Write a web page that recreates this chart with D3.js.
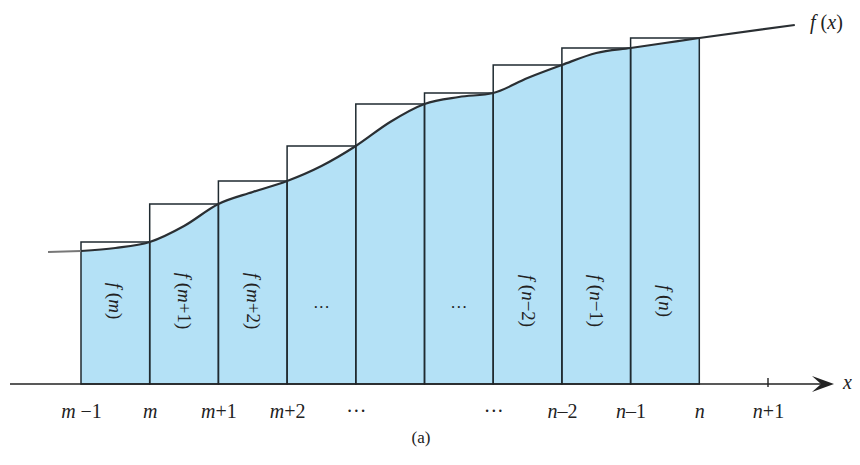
<!DOCTYPE html>
<html>
<head>
<meta charset="utf-8">
<script src="https://cdn.jsdelivr.net/npm/d3@7"></script>
<style>
  html, body { margin: 0; padding: 0; background: #fff; }
  svg { display: block; }
  text { font-family: "Liberation Serif", "DejaVu Serif", serif; fill: #222; }
</style>
</head>
<body>
<svg id="chart" width="860" height="465"></svg>
<script>
// ---- data ----
// curve sample positions (x index: 0 = m-1, 1 = m, ..., 9 = n, 10 = n+1)
const curveX = [-0.48, 0, 0.5, 1, 1.5, 2, 2.5, 3, 3.5, 4, 4.5, 5, 5.5, 6, 6.5, 7, 7.5, 8, 8.5, 9, 10.39];
const curveY = [132, 133, 136, 142, 158, 180, 192, 203, 218, 238, 262, 280, 287, 291, 306, 319, 331, 336, 341, 346, 359];
// rectangle heights f(k) on [k-1, k], right endpoints k = 1..9
const rectIndex = [1, 2, 3, 4, 5, 6, 7, 8, 9];
const rectValues = [142, 180, 203, 238, 280, 291, 319, 336, 346];
const rectLabels = ["f (m)", "f (m+1)", "f (m+2)", "···", "", "···", "f (n−2)", "f (n−1)", "f (n)"];
const tickValues = [0, 1, 2, 3, 4, 5, 6, 7, 8, 9, 10];
const tickLabels = ["m −1", "m", "m+1", "m+2", "···", "", "···", "n–2", "n–1", "n", "n+1"];

// ---- scales ----
const svg = d3.select("#chart");
const x = d3.scaleLinear().domain([0, 10]).range([81, 768]);
const y = d3.scaleLinear().domain([0, 360]).range([384, 24]);

const pts = curveX.map((v, i) => [v, curveY[i]]);
const interp = d3.curveMonotoneX;

// blue area under curve between x=0 and x=9
const areaPts = pts.filter(p => p[0] >= 0 && p[0] <= 9);
svg.append("path")
  .attr("d", d3.area().x(d => x(d[0])).y0(y(0)).y1(d => y(d[1])).curve(interp)(areaPts))
  .attr("fill", "#b4e1f6");

// rectangles (outlines)
svg.append("g").selectAll("rect")
  .data(rectIndex)
  .join("rect")
  .attr("x", d => x(d - 1))
  .attr("y", (d, i) => y(rectValues[i]))
  .attr("width", d => x(d) - x(d - 1))
  .attr("height", (d, i) => y(0) - y(rectValues[i]))
  .attr("fill", "none")
  .attr("stroke", "#1f2a30")
  .attr("stroke-width", 1.5);

// curve: gray left tail, then dark main
const tail = pts.filter(p => p[0] <= 0);
svg.append("path")
  .attr("d", d3.line().x(d => x(d[0])).y(d => y(d[1])).curve(interp)(tail))
  .attr("fill", "none").attr("stroke", "#777").attr("stroke-width", 2);
const main = pts.filter(p => p[0] >= 0);
svg.append("path")
  .attr("d", d3.line().x(d => x(d[0])).y(d => y(d[1])).curve(interp)(main))
  .attr("fill", "none").attr("stroke", "#2a2f33").attr("stroke-width", 2.2);

// rich text: italic for single-letter variables, upright for the rest
function addRich(sel, str) {
  const parts = str.match(/[fmnx]|[^fmnx]+/g) || [];
  parts.forEach(p => {
    sel.append("tspan")
      .attr("font-style", /^[fmnx]$/.test(p) ? "italic" : "normal")
      .text(p);
  });
}
const lab = svg.append("g");
rectIndex.forEach((k, i) => {
  const s = rectLabels[i];
  if (!s) return;
  const cx = (x(k - 1) + x(k)) / 2;
  if (s === "···") {
    lab.append("text").attr("x", cx).attr("y", 313)
      .attr("text-anchor", "middle").attr("font-size", 17).text(s);
  } else {
    const t = lab.append("text")
      .attr("transform", `translate(${cx - 6},301) rotate(90)`)
      .attr("text-anchor", "middle").attr("font-size", 19);
    addRich(t, s);
  }
});

// x axis (labels through d3 axis)
const axis = d3.axisBottom(x).tickValues(tickValues).tickSize(0).tickPadding(0).tickFormat(() => "");
const gAxis = svg.append("g").attr("transform", `translate(0,${y(0)})`).call(axis);
gAxis.select(".domain").remove();
gAxis.selectAll(".tick text").remove();
gAxis.selectAll(".tick").each(function(d, i) {
  const t = d3.select(this).append("text")
    .attr("y", 34).attr("text-anchor", "middle")
    .attr("font-size", 20).attr("fill", "#222");
  addRich(t, tickLabels[i]);
});

// axis line and arrow
svg.append("line").attr("x1", 10).attr("x2", 826).attr("y1", y(0)).attr("y2", y(0))
  .attr("stroke", "#222").attr("stroke-width", 1.6);
svg.append("path")
  .attr("d", `M834,${y(0)} L812,${y(0) - 8} L821,${y(0)} L812,${y(0) + 8} Z`)
  .attr("fill", "#222");
// tick at n+1
svg.append("line").attr("x1", x(10)).attr("x2", x(10)).attr("y1", y(0) - 6).attr("y2", y(0) + 3)
  .attr("stroke", "#222").attr("stroke-width", 1.4);

// x label
svg.append("text").attr("x", 843).attr("y", 389).attr("font-size", 20)
  .attr("font-style", "italic").text("x");

// f(x) label
const fx = svg.append("text").attr("x", 810).attr("y", 29).attr("font-size", 20);
addRich(fx, "f (x)");

// caption
svg.append("text").attr("x", 421).attr("y", 443).attr("text-anchor", "middle")
  .attr("font-size", 17).text("(a)");
</script>
</body>
</html>
